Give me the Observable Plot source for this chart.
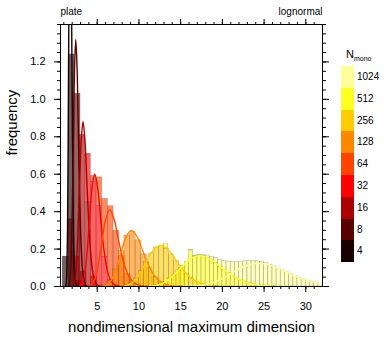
<!DOCTYPE html>
<html><head><meta charset="utf-8">
<script src="https://cdn.jsdelivr.net/npm/d3@7"></script>
<script src="https://cdn.jsdelivr.net/npm/@observablehq/plot@0.6"></script>
<style>
body{margin:0;background:#fff;font-family:"Liberation Sans",Arial,Helvetica,sans-serif;}
#chart{position:relative;width:386px;height:338px;}
.leg{position:absolute;color:#000;white-space:nowrap;}
</style></head><body><div id="chart"></div>
<script>
const N = [4, 8, 16, 32, 64, 128, 256, 512, 1024];
const colors = ["#1a0000", "#5a0000", "#aa0000", "#ff0000", "#ff4400", "#ff8800", "#ffcc00", "#ffff22", "#ffff99"];

const xTicks = [5, 10, 15, 20, 25, 30];
const xMinorTicks = [1,2,3,4,5,6,7,8,9,10,11,12,13,14,15,16,17,18,19,20,21,22,23,24,25,26,27,28,29,30,31];
const yTicks = [0, 0.2, 0.4, 0.6, 0.8, 1.0, 1.2];
const yMinorTicks = [0,0.05,0.1,0.15,0.2,0.25,0.3,0.35,0.4,0.45,0.5,0.55,0.6,0.65,0.7,0.75,0.8,0.85,0.9,0.95,1.0,1.05,1.1,1.15,1.2,1.25,1.3,1.35,1.4];

// histogram bins: first left edge and bin width per series
const histStart = [0.86, 1.56, 2.14, 2.88, 3.56, 5.58, 7.6, 10.5, 16.0];
const histWidth = [0.71, 0.72, 0.71, 0.68, 0.68, 0.67, 0.6, 0.5, 0.5];
const hist4 = [0.16, 1.24, 0.03];
const hist8 = [0.36, 1.03, 0.08, 0.005];
const hist16 = [0.16, 0.81, 0.45, 0.054, 0.005];
const hist32 = [0.025, 0.256, 0.56, 0.43, 0.158, 0.035, 0.005];
const hist64 = [0.002, 0.031, 0.153, 0.31, 0.394, 0.298, 0.161, 0.067, 0.023, 0.007];
const hist128 = [0.005, 0.027, 0.091, 0.189, 0.272, 0.292, 0.247, 0.172, 0.102, 0.053, 0.025, 0.011, 0.004];
const hist256 = [0.001, 0.0055, 0.0175, 0.042, 0.082, 0.131, 0.177, 0.2085, 0.216, 0.2025, 0.172, 0.135, 0.0995, 0.068, 0.044, 0.0275, 0.016, 0.0093, 0.0052, 0.003];
const hist512 = [0.0005, 0.0015, 0.0036, 0.0079, 0.0153, 0.0269, 0.0429, 0.0632, 0.0862, 0.110, 0.132, 0.149, 0.161, 0.165, 0.162, 0.1535, 0.140, 0.123, 0.105, 0.0877, 0.071, 0.0561, 0.0434, 0.0329, 0.0244, 0.0178, 0.0127, 0.009, 0.0063, 0.0043, 0.0029, 0.002];
const hist1024 = [0.0012, 0.0024, 0.0043, 0.0074, 0.0119, 0.0182, 0.0263, 0.0364, 0.0482, 0.0611, 0.0746, 0.0879, 0.100, 0.110, 0.118, 0.123, 0.125, 0.124, 0.120, 0.1135, 0.105, 0.096, 0.086, 0.0754, 0.0653, 0.0555, 0.0467, 0.0386, 0.0316, 0.0255, 0.0203, 0.016];

// lognormal fit curves
const curveX4 = [1.240,1.304,1.371,1.441,1.515,1.592,1.674,1.760,1.850,1.945,2.045,2.150,2.260,2.376,2.498];
const curveY4 = [0.005,0.025,0.099,0.304,0.731,1.365,1.986,2.250,1.986,1.365,0.731,0.304,0.099,0.025,0.005];
const curveX8 = [1.574,1.675,1.782,1.896,2.018,2.147,2.284,2.430,2.586,2.751,2.927,3.114,3.313,3.525,3.750];
const curveY8 = [0.003,0.015,0.058,0.179,0.429,0.801,1.165,1.320,1.165,0.801,0.429,0.179,0.058,0.015,0.003];
const curveX16 = [2.043,2.188,2.343,2.509,2.687,2.878,3.082,3.300,3.534,3.784,4.053,4.340,4.648,4.978,5.330];
const curveY16 = [0.002,0.010,0.039,0.119,0.286,0.534,0.777,0.880,0.777,0.534,0.286,0.119,0.039,0.010,0.002];
const curveX32 = [2.869,3.079,3.304,3.545,3.804,4.082,4.380,4.700,5.043,5.412,5.807,6.231,6.686,7.175,7.699];
const curveY32 = [0.001,0.007,0.026,0.081,0.195,0.364,0.530,0.600,0.530,0.364,0.195,0.081,0.026,0.007,0.001];
const curveX64 = [3.845,4.144,4.467,4.815,5.190,5.595,6.030,6.500,7.006,7.552,8.140,8.774,9.458,10.194,10.988];
const curveY64 = [0.001,0.005,0.018,0.055,0.133,0.249,0.362,0.410,0.362,0.249,0.133,0.055,0.018,0.005,0.001];
const curveX128 = [5.459,5.872,6.317,6.796,7.310,7.864,8.459,9.100,9.789,10.531,11.328,12.186,13.109,14.101,15.169];
const curveY128 = [0.001,0.003,0.013,0.041,0.097,0.182,0.265,0.300,0.265,0.182,0.097,0.041,0.013,0.003,0.001];
const curveX256 = [7.612,8.180,8.791,9.447,10.152,10.910,11.724,12.600,13.541,14.552,15.638,16.806,18.060,19.408,20.857];
const curveY256 = [0.000,0.002,0.010,0.030,0.071,0.133,0.194,0.220,0.194,0.133,0.071,0.030,0.010,0.002,0.000];
const curveX512 = [10.598,11.366,12.191,13.075,14.023,15.041,16.131,17.300,18.554,19.900,21.343,22.890,24.550,26.331,28.239];
const curveY512 = [0.000,0.002,0.007,0.022,0.054,0.100,0.146,0.165,0.146,0.100,0.054,0.022,0.007,0.002,0.000];
const curveX1024 = [15.309,16.354,17.469,18.662,19.936,21.294,22.747,24.300,25.957,27.729,29.622,31.643,33.801,36.107,38.571];
const curveY1024 = [0.000,0.001,0.005,0.017,0.041,0.076,0.110,0.125,0.110,0.076,0.041,0.017,0.005,0.001,0.000];

const hists = [hist4, hist8, hist16, hist32, hist64, hist128, hist256, hist512, hist1024];
const curvesX = [curveX4, curveX8, curveX16, curveX32, curveX64, curveX128, curveX256, curveX512, curveX1024];
const curvesY = [curveY4, curveY8, curveY16, curveY32, curveY64, curveY128, curveY256, curveY512, curveY1024];

const bars = [];
N.forEach((n, i) => hists[i].forEach((v, j) => bars.push({
  n, x1: histStart[i] + j * histWidth[i], x2: histStart[i] + (j + 1) * histWidth[i], y: v
})));
const pts = [];
N.forEach((n, i) => curvesX[i].forEach((x, j) => pts.push({n, x, y: curvesY[i][j]})));

const font = "Liberation Sans, Arial, Helvetica, sans-serif";
const plot = Plot.plot({
  width: 386, height: 338,
  marginLeft: 60, marginRight: 64, marginTop: 24, marginBottom: 52,
  x: {domain: [0.6, 32]},
  y: {domain: [0, 1.4]},
  color: {type: "ordinal", domain: N, range: colors},
  style: {fontFamily: font, fontSize: "11px", color: "#000", background: "#fff", overflow: "visible"},
  marks: [
    Plot.rectY(bars, {x1: "x1", x2: "x2", y: "y", fill: "n", fillOpacity: 0.62, stroke: "#000", strokeOpacity: 0.22, strokeWidth: 0.7, clip: true}),
    Plot.line(pts, {x: "x", y: "y", z: "n", stroke: "n", strokeWidth: 1.4, curve: "catmull-rom", clip: true}),
    Plot.frame({stroke: "#000", strokeWidth: 1}),
    Plot.axisX(xTicks, {anchor: "bottom", tickSize: 6, tickPadding: 10, label: null, fontSize: 11}),
    Plot.axisX(xMinorTicks, {anchor: "bottom", tickSize: 3, fill: "none", label: null}),
    Plot.axisX(xTicks, {anchor: "top", tickSize: 6, fill: "none", label: null}),
    Plot.axisX(xMinorTicks, {anchor: "top", tickSize: 3, fill: "none", label: null}),
    Plot.axisY(yTicks, {anchor: "left", tickSize: 6, tickPadding: 9, tickFormat: ".1f", label: null, fontSize: 11}),
    Plot.axisY(yMinorTicks, {anchor: "left", tickSize: 3, fill: "none", label: null}),
    Plot.axisY(yTicks, {anchor: "right", tickSize: 6, fill: "none", label: null}),
    Plot.axisY(yMinorTicks, {anchor: "right", tickSize: 3, fill: "none", label: null}),
    Plot.text(["plate"], {text: d => d, frameAnchor: "top-left", textAnchor: "start", lineAnchor: "middle", dy: -13, fontSize: 10}),
    Plot.text(["lognormal"], {text: d => d, frameAnchor: "top-right", textAnchor: "end", lineAnchor: "middle", dy: -13, fontSize: 10}),
    Plot.text(["nondimensional maximum dimension"], {text: d => d, frameAnchor: "bottom", lineAnchor: "middle", dy: 41, fontSize: 15}),
    Plot.text(["frequency"], {text: d => d, frameAnchor: "left", lineAnchor: "middle", dx: -48, rotate: -90, fontSize: 15})
  ]
});
const chart = document.getElementById("chart");
chart.appendChild(plot);

// legend (colour bar with N_mono labels)
const title = document.createElement("div");
title.className = "leg";
title.style.cssText = "left:346px;top:48px;font-size:11px;line-height:13px;";
title.innerHTML = 'N<span style="font-size:7px;position:relative;top:3px;">mono</span>';
chart.appendChild(title);
const boxH = 21.8;
N.slice().reverse().forEach((n, k) => {
  const i = N.length - 1 - k;
  const box = document.createElement("div");
  box.className = "leg";
  box.style.cssText = `left:341px;top:${66 + k * boxH}px;width:13px;height:${boxH}px;background:${colors[i]};`;
  chart.appendChild(box);
  const lab = document.createElement("div");
  lab.className = "leg";
  lab.style.cssText = `left:357px;top:${66 + k * boxH}px;height:${boxH}px;line-height:${boxH}px;font-size:10px;`;
  lab.textContent = String(n);
  chart.appendChild(lab);
});
</script></body></html>
